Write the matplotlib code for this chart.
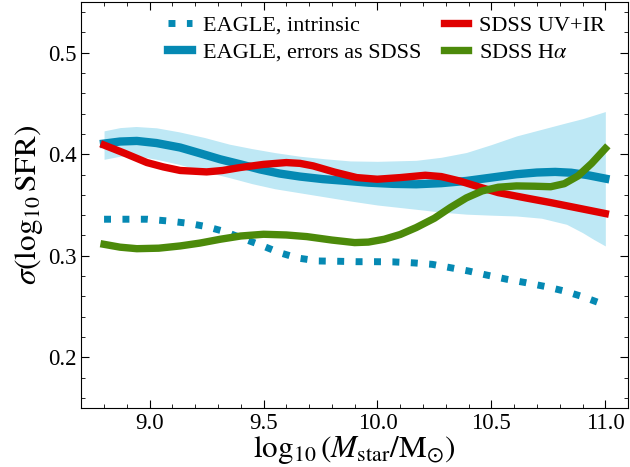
import matplotlib
matplotlib.use("Agg")
import matplotlib.pyplot as plt
from matplotlib.ticker import MultipleLocator, FormatStrFormatter

plt.rcParams['font.family'] = ['Liberation Serif', 'DejaVu Serif']
plt.rcParams['mathtext.fontset'] = 'stix'

# EAGLE, errors as SDSS (solid blue)
mass_err = [8.80, 8.87, 8.944, 9.03, 9.134, 9.22, 9.31, 9.40, 9.485, 9.57, 9.66, 9.76, 9.865,
            9.96, 10.07, 10.17, 10.28, 10.39, 10.50, 10.61, 10.70, 10.78, 10.85, 10.92, 11.0]
sig_err = [0.4105, 0.4125, 0.4131, 0.411, 0.4066, 0.401, 0.395, 0.390, 0.385, 0.381, 0.378, 0.3755, 0.3737,
           0.372, 0.3708, 0.3704, 0.3715, 0.3737, 0.377, 0.3803, 0.382, 0.3826, 0.3818, 0.3795, 0.376]

# scatter range around the EAGLE curve
mass_band = [8.80, 8.87, 8.94, 9.03, 9.13, 9.24, 9.35, 9.45, 9.55, 9.66, 9.77, 9.88, 10.0,
             10.17, 10.28, 10.39, 10.50, 10.61, 10.72, 10.83, 10.90, 10.95, 11.0]
band_hi = [0.423, 0.4262, 0.4273, 0.426, 0.422, 0.4165, 0.4099, 0.4055, 0.4016, 0.398, 0.3955, 0.3934, 0.393,
           0.394, 0.397, 0.4017, 0.4095, 0.418, 0.4245, 0.431, 0.435, 0.4385, 0.442]
band_lo = [0.395, 0.398, 0.3985, 0.395, 0.390, 0.383, 0.377, 0.371, 0.366, 0.362, 0.358, 0.354, 0.350,
           0.3458, 0.343, 0.341, 0.340, 0.3392, 0.337, 0.331, 0.3228, 0.316, 0.3097]

# EAGLE, intrinsic (dotted blue)
mass_int = [8.80, 8.90, 8.99, 9.08, 9.17, 9.25, 9.33, 9.41, 9.49, 9.57, 9.65, 9.74, 9.83, 9.91,
            9.99, 10.07, 10.16, 10.24, 10.32, 10.40, 10.48, 10.57, 10.65, 10.74, 10.82, 10.90, 11.0]
sig_int = [0.336, 0.336, 0.336, 0.3343, 0.332, 0.3287, 0.3238, 0.317, 0.3103, 0.3031, 0.2978, 0.2949, 0.2946, 0.2942,
           0.2942, 0.2940, 0.293, 0.2916, 0.2883, 0.285, 0.281, 0.2768, 0.2736, 0.2696, 0.2653, 0.2598, 0.2515]

# SDSS UV+IR
mass_uvir = [8.80, 8.89, 8.988, 9.06, 9.134, 9.25, 9.32, 9.397, 9.50, 9.60, 9.66, 9.718, 9.81,
             9.909, 9.999, 10.10, 10.21, 10.28, 10.36, 10.45, 10.53, 10.65, 10.76, 10.88, 11.0]
sig_uvir = [0.409, 0.401, 0.3918, 0.3875, 0.384, 0.3826, 0.384, 0.3869, 0.390, 0.3918, 0.391, 0.3885, 0.3825,
            0.377, 0.3754, 0.377, 0.3793, 0.378, 0.3737, 0.3675, 0.3622, 0.357, 0.3524, 0.347, 0.3416]

# SDSS Halpha
mass_ha = [8.80, 8.87, 8.944, 9.04, 9.134, 9.22, 9.31, 9.40, 9.50, 9.60, 9.69, 9.80, 9.90, 9.96,
           10.03, 10.10, 10.17, 10.25, 10.32, 10.39, 10.46, 10.53, 10.61, 10.69, 10.76, 10.82, 10.88, 10.94, 11.0]
sig_ha = [0.3113, 0.3085, 0.307, 0.3075, 0.3097, 0.3125, 0.3163, 0.3195, 0.3212, 0.3205, 0.3189, 0.3155, 0.313, 0.3135,
          0.3163, 0.321, 0.3278, 0.337, 0.3475, 0.357, 0.3639, 0.3675, 0.3688, 0.3685, 0.368, 0.371, 0.3786, 0.391, 0.4056]

blue = '#0589b3'

fig = plt.figure(figsize=(6.3, 4.67), dpi=100)
ax = fig.add_axes([0.129, 0.126, 0.868, 0.870])

ax.fill_between(mass_band, band_lo, band_hi, color='#bee8f5', lw=0)
ax.plot(mass_int, sig_int, color=blue, lw=5.0, ls=(0, (1, 1.65)), label='EAGLE, intrinsic')
ax.plot(mass_err, sig_err, color=blue, lw=6.0, label='EAGLE, errors as SDSS')
ax.plot(mass_uvir, sig_uvir, color='#e00000', lw=5.3, label='SDSS UV+IR')
ax.plot(mass_ha, sig_ha, color='#4c8a0a', lw=5.3, label=r'SDSS H$\alpha$')

ax.set_xlim(8.7, 11.1)
ax.set_ylim(0.15, 0.55)
ax.xaxis.set_major_locator(MultipleLocator(0.5))
ax.xaxis.set_minor_locator(MultipleLocator(0.1))
ax.yaxis.set_major_locator(MultipleLocator(0.1))
ax.yaxis.set_minor_locator(MultipleLocator(0.02))
ax.xaxis.set_major_formatter(FormatStrFormatter('%.1f'))
ax.yaxis.set_major_formatter(FormatStrFormatter('%.1f'))
ax.tick_params(which='both', direction='in', top=True, right=True, labelsize=16.5)
ax.tick_params(which='major', length=6)
ax.tick_params(which='minor', length=3)

ax.set_xlabel(r'$\log_{10}(M_{\rm star}/{\rm M}_{\odot})$', fontsize=22.5, labelpad=0)
ax.set_ylabel(r'$\sigma(\log_{10}{\rm SFR})$', fontsize=22.5, labelpad=2)

ax.legend(loc='upper center', bbox_to_anchor=(0.558, 1.017), ncol=2, frameon=False, fontsize=16,
          handlelength=1.1, handletextpad=0.5, columnspacing=1.0, labelspacing=0.3)

fig.savefig('out.png', dpi=100)
